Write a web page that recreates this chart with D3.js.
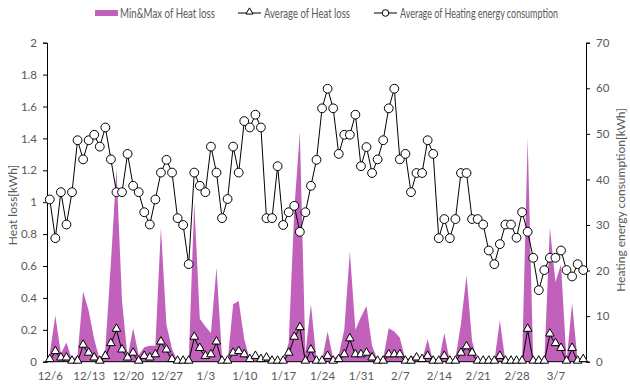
<!DOCTYPE html>
<html><head><meta charset="utf-8">
<script src="https://cdn.jsdelivr.net/npm/d3@7"></script>
<style>
html,body{margin:0;padding:0;background:#fff;}
svg text{font-family:Lato,"Noto Sans",Arial,sans-serif;}
</style></head>
<body><svg id="c" width="630" height="386"></svg>
<script>
// ---- data ----
const startDate = new Date(2020, 11, 6);   // 12/6
const tickLabels = ["12/6","12/13","12/20","12/27","1/3","1/10","1/17","1/24","1/31","2/7","2/14","2/21","2/28","3/7"];
const heatLossMax = [0.05,0.29,0.05,0.12,0.01,0.04,0.44,0.32,0.14,0.01,
  0.08,0.62,1.21,0.38,0.03,0.21,0.04,0.09,0.10,0.10,
  0.84,0.23,0.08,0,0,0,1.00,0.27,0.22,0.18,
  0.59,0.03,0,0.36,0.38,0.14,0.01,0.05,0.01,0.03,
  0.01,0,0,0.12,0.95,1.44,0.05,0.36,0.01,0.01,
  0.19,0.02,0.04,0.20,0.69,0.20,0.28,0.35,0.10,0.01,
  0.02,0.21,0.19,0.15,0.01,0.03,0.04,0.01,0.14,0,
  0,0.18,0,0.02,0.24,0.54,0.13,0,0,0,
  0,0.26,0,0,0,0,1.40,0,0,0,
  0.84,0.50,0.61,0,0.37,0,0.02];
const heatLossMin = heatLossMax.map(() => 0);
const heatLossAvg = [0.01,0.06,0.02,0.02,0,0,0.10,0.05,0.02,0,
  0.03,0.11,0.20,0.07,0.02,0.05,0,0.03,0.02,0.04,
  0.12,0.07,0.01,0,0,0,0.15,0.08,0.03,0.04,
  0.12,0,0,0.05,0.06,0.04,0.01,0.03,0.01,0.02,
  0,0,0,0.05,0.15,0.21,0,0.07,0,0,
  0.03,0,0.01,0.04,0.14,0.04,0.04,0.05,0.02,0,
  0,0.04,0.04,0.04,0,0,0.02,0.01,0.03,0,
  0,0.03,0,0,0.05,0.09,0.05,0,0,0,
  0,0.03,0,0,0,0,0.20,0,0,0,
  0.17,0.11,0.08,0,0.08,0,0.01];
const heatingEnergy = [35.6,27.1,37.2,30.1,37.2,48.6,44.4,48.6,49.8,47.2,
  51.4,44.4,37.2,37.2,45.6,38.6,37.2,32.8,30.1,35.6,
  41.5,44.3,41.5,31.5,30.0,21.4,41.5,38.6,37.2,47.2,
  41.5,31.5,35.7,47.2,41.5,52.8,51.4,54.2,51.4,31.5,
  31.5,42.9,30.0,32.8,34.2,28.5,32.8,38.6,44.3,55.6,
  59.9,55.6,45.6,49.8,49.8,54.2,42.9,47.1,41.4,44.4,
  48.6,55.6,59.9,44.4,45.6,37.2,41.4,41.4,48.6,45.6,
  27.1,31.3,27.1,31.3,41.4,41.4,31.3,31.3,30.1,24.4,
  21.4,25.8,30.1,30.1,27.2,32.8,28.5,22.8,15.7,20.1,
  22.8,22.8,24.4,20.1,18.7,21.4,20.1];
const leftTicks = [0,0.2,0.4,0.6,0.8,1,1.2,1.4,1.6,1.8,2];
const rightTicks = [0,10,20,30,40,50,60,70];
const legendLabels = ["Min&Max of Heat loss","Average of Heat loss","Average of Heating energy consumption"];
const titleLeft = "Heat loss[kWh]";
const titleRight = "Heating energy consumption[kWh]";

// ---- layout ----
const X0 = 47, X1 = 586, Y0 = 361.7, Y1 = 42.7;
const purple = "#C261BB", grey = "#595959";
const svg = d3.select("#c");
const dates = heatingEnergy.map((_, i) => d3.timeDay.offset(startDate, i));
const x = d3.scaleTime()
  .domain([d3.timeHour.offset(dates[0], -12), d3.timeHour.offset(dates[dates.length-1], 12)])
  .range([X0, X1]);
const yL = d3.scaleLinear().domain([0, 2]).range([Y0, Y1]);
const yR = d3.scaleLinear().domain([0, 70]).range([Y0, Y1]);

// area
const area = d3.area().x((d, i) => x(dates[i])).y0((d, i) => yL(heatLossMin[i])).y1(d => yL(d));
svg.append("path").attr("d", area(heatLossMax)).attr("fill", purple);

// axes
const gL = svg.append("g").attr("transform", `translate(${X0},0)`)
  .call(d3.axisLeft(yL).tickValues(leftTicks).tickSize(4).tickPadding(6).tickFormat(d3.format("")));
const gR = svg.append("g").attr("transform", `translate(${X1},0)`)
  .call(d3.axisRight(yR).tickValues(rightTicks).tickSize(4).tickPadding(6));
const tickDates = tickLabels.map((_, k) => dates[k * 7]);
const gB = svg.append("g").attr("transform", `translate(0,${Y0})`)
  .call(d3.axisBottom(x).tickValues(tickDates).tickSize(0).tickPadding(10)
    .tickFormat((d, k) => tickLabels[k]));
[gL, gR, gB].forEach(g => {
  g.selectAll("path.domain").attr("stroke", "#000").attr("stroke-width", 1);
  g.selectAll(".tick line").attr("stroke", "#000");
  g.selectAll("text").attr("fill", grey).style("font-size", "11.5px");
});
gB.selectAll("path.domain").attr("d", `M${X0},0H${X1}`);

// avg heat loss line + triangles
const lineL = d3.line().x((d, i) => x(dates[i])).y(d => yL(d));
svg.append("path").attr("d", lineL(heatLossAvg)).attr("fill", "none").attr("stroke", "#000").attr("stroke-width", 1);
const tri = d3.symbol().type(d3.symbolTriangle).size(32);
svg.append("g").selectAll("path").data(heatLossAvg).join("path")
  .attr("d", tri).attr("transform", (d, i) => `translate(${x(dates[i])},${yL(d) - 1})`)
  .attr("fill", "#fff").attr("stroke", "#000").attr("stroke-width", 1);

// heating energy line + circles
const lineR = d3.line().x((d, i) => x(dates[i])).y(d => yR(d));
svg.append("path").attr("d", lineR(heatingEnergy)).attr("fill", "none").attr("stroke", "#000").attr("stroke-width", 1);
svg.append("g").selectAll("circle").data(heatingEnergy).join("circle")
  .attr("cx", (d, i) => x(dates[i])).attr("cy", d => yR(d)).attr("r", 4.4)
  .attr("fill", "#fff").attr("stroke", "#000").attr("stroke-width", 1);

// axis titles
svg.append("text").attr("transform", "translate(17,205) rotate(-90)").attr("text-anchor", "middle")
  .attr("fill", grey).style("font-size", "12px").text(titleLeft);
svg.append("text").attr("transform", "translate(625,200) rotate(-90)").attr("text-anchor", "middle")
  .attr("fill", grey).style("font-size", "12px").text(titleRight);

// legend
const lg = svg.append("g");
const ly = 13;
const legText = (xp, w, s) => lg.append("text").attr("x", xp).attr("y", ly + 4.5).attr("fill", grey)
  .style("font-size", "12.5px").attr("textLength", w).attr("lengthAdjust", "spacingAndGlyphs").text(s);
lg.append("rect").attr("x", 95).attr("y", ly - 3).attr("width", 23).attr("height", 6).attr("fill", purple);
legText(120, 95, legendLabels[0]);
lg.append("line").attr("x1", 238).attr("x2", 261).attr("y1", ly).attr("y2", ly).attr("stroke", "#000");
lg.append("path").attr("d", d3.symbol().type(d3.symbolTriangle).size(22)).attr("transform", `translate(249.5,${ly - 1})`)
  .attr("fill", "#fff").attr("stroke", "#000");
legText(264, 86, legendLabels[1]);
lg.append("line").attr("x1", 374).attr("x2", 397).attr("y1", ly).attr("y2", ly).attr("stroke", "#000");
lg.append("circle").attr("cx", 385.5).attr("cy", ly).attr("r", 3.3).attr("fill", "#fff").attr("stroke", "#000");
legText(400, 158, legendLabels[2]);
</script></body></html>
